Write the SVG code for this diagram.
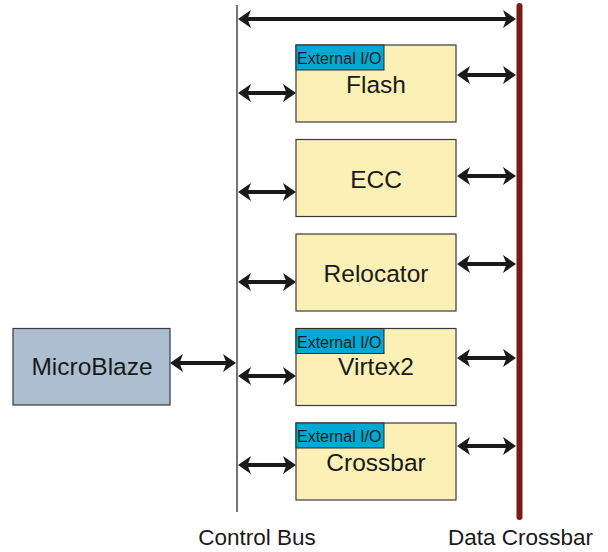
<svg xmlns="http://www.w3.org/2000/svg" width="608" height="552" viewBox="0 0 608 552">
<style>
.box{fill:#fbf1b6;stroke:#3a3a3a;stroke-width:1.2}
.io{fill:#00a9d1;stroke:#2a2a2a;stroke-width:1}
.t{font-family:"Liberation Sans",Arial,sans-serif;fill:#1a1a1a;text-anchor:middle}
.big{font-size:24.5px}
.small{font-size:16px;text-anchor:start}
.lbl{font-size:22.5px}
.arr{stroke:#1a1a1a;stroke-width:4;fill:none;marker-start:url(#ah);marker-end:url(#ah)}
</style>
<defs>
<marker id="ah" markerUnits="userSpaceOnUse" markerWidth="18" markerHeight="22" viewBox="-1 -11 18 22" refX="5" refY="0" orient="auto-start-reverse">
<path d="M0,-9 L13,0 L0,9 L3.5,0 Z" fill="#1a1a1a"/>
</marker>
</defs>
<g id="control-bus-line"><line x1="237" y1="5" x2="237" y2="512" stroke="#1a1a1a" stroke-width="1.2"/></g>
<g id="data-crossbar-line"><line x1="519.5" y1="6" x2="519.5" y2="517" stroke="#7b1a17" stroke-width="6" stroke-linecap="round"/></g>
<g id="connectors">
<line class="arr" x1="246" y1="19" x2="508" y2="19"/>
<line class="arr" x1="178" y1="363" x2="228" y2="363"/>
<line class="arr" x1="246" y1="93" x2="288" y2="93"/>
<line class="arr" x1="246" y1="192" x2="288" y2="192"/>
<line class="arr" x1="246" y1="282" x2="288" y2="282"/>
<line class="arr" x1="246" y1="376" x2="288" y2="376"/>
<line class="arr" x1="246" y1="465" x2="288" y2="465"/>
<line class="arr" x1="465" y1="75" x2="508" y2="75"/>
<line class="arr" x1="465" y1="176" x2="508" y2="176"/>
<line class="arr" x1="465" y1="264" x2="508" y2="264"/>
<line class="arr" x1="465" y1="358" x2="508" y2="358"/>
<line class="arr" x1="465" y1="446" x2="508" y2="446"/>
</g>
<g id="microblaze">
<rect x="13" y="328.5" width="157" height="76.5" fill="#abbfd1" stroke="#3a3a3a" stroke-width="1.2"/>
<text class="t big" x="92" y="375">MicroBlaze</text>
</g>
<g id="flash">
<rect class="box" x="296" y="45" width="160" height="77"/>
<rect class="io" x="296" y="45" width="88" height="25"/>
<text class="t small" x="297" y="64">External I/O</text>
<text class="t big" x="376" y="93">Flash</text>
</g>
<g id="ecc">
<rect class="box" x="296" y="139.5" width="160" height="77"/>
<text class="t big" x="376" y="188">ECC</text>
</g>
<g id="relocator">
<rect class="box" x="296" y="234" width="160" height="77"/>
<text class="t big" x="376" y="282">Relocator</text>
</g>
<g id="virtex2">
<rect class="box" x="296" y="328.5" width="160" height="77"/>
<rect class="io" x="296" y="328.5" width="88" height="25"/>
<text class="t small" x="297" y="347.5">External I/O</text>
<text class="t big" x="376" y="375">Virtex2</text>
</g>
<g id="crossbar">
<rect class="box" x="296" y="423" width="160" height="77"/>
<rect class="io" x="296" y="423" width="88" height="25"/>
<text class="t small" x="297" y="442">External I/O</text>
<text class="t big" x="376" y="471">Crossbar</text>
</g>
<g id="labels">
<text class="t lbl" x="257" y="545">Control Bus</text>
<text class="t lbl" x="520.5" y="545">Data Crossbar</text>
</g>
</svg>
